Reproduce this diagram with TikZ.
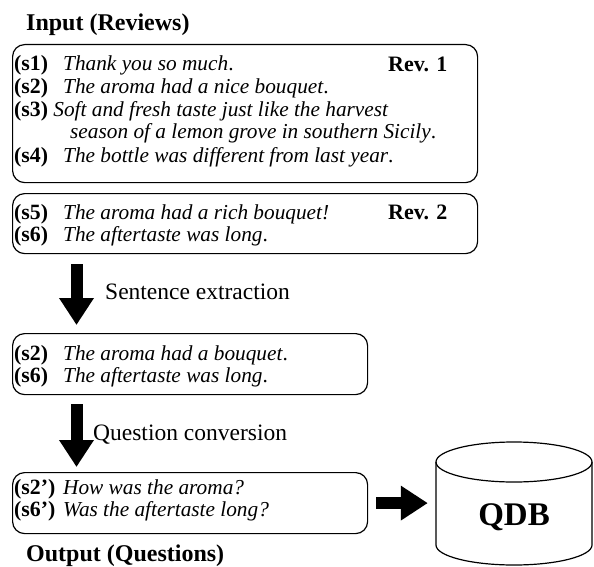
\documentclass[tikz,border=0pt]{standalone}
\usepackage{fontspec}
\setmainfont{Liberation Serif}
\usetikzlibrary{arrows.meta,calc}
\newcommand{\lab}[1]{\makebox[49pt][l]{\fontsize{21.8}{23}\selectfont\bfseries #1}}
\newcommand{\labs}[1]{{\fontsize{21.8}{23}\selectfont\bfseries #1}}
\begin{document}
\begin{tikzpicture}[x=1pt,y=-1pt,
  rbox/.style={draw, line width=1.2pt, rounded corners=12pt, anchor=north west, inner sep=0pt},
  txt/.style={anchor=base west, inner sep=0pt, font=\fontsize{21.3}{23}\selectfont},
  plain/.style={anchor=base west, inner sep=0pt, font=\fontsize{23.5}{26}\selectfont},
  title/.style={anchor=base west, inner sep=0pt, font=\fontsize{24}{26}\selectfont\bfseries},
  bigarrow/.style={line width=12pt, -{Triangle[length=27pt,width=33pt]}}
]
\useasboundingbox (0,0) rectangle (594,567);
% title
\node[title] (tin) at (26,31) {Input (Reviews)};
% boxes
\node[rbox, minimum width=465pt, minimum height=138pt] (box1) at (12,44) {};
\node[rbox, minimum width=465pt, minimum height=60pt] (box2) at (12,193) {};
\node[rbox, minimum width=355pt, minimum height=61pt] (box3) at (12,333) {};
\node[rbox, minimum width=355pt, minimum height=61pt] (box4) at (12,472) {};
% review 1
\node[txt] (s1) at (14,71) {\lab{(s1)}\textit{Thank you so much}.};
\node[txt] (s2) at (14,94) {\lab{(s2)}\textit{The aroma had a nice bouquet}.};
\node[txt] (s3) at (14,117) {\labs{(s3)} \textit{Soft and fresh taste just like the harvest}};
\node[txt] (s3b) at (70,139) {\textit{season of a lemon grove in southern Sicily}.};
\node[txt] (s4) at (14,162) {\lab{(s4)}\textit{The bottle was different from last year}.};
\node[txt, font=\fontsize{22}{23}\selectfont\bfseries] (rev1) at (388,72) {Rev. 1};
% review 2
\node[txt] (s5) at (14,219) {\lab{(s5)}\textit{The aroma had a rich bouquet!}};
\node[txt] (s6) at (14,241) {\lab{(s6)}\textit{The aftertaste was long}.};
\node[txt, font=\fontsize{22}{23}\selectfont\bfseries] (rev2) at (388,219) {Rev. 2};
% arrow 1
\draw[bigarrow] ($(box2.south west)+(64.5,10)$) -- ($(box3.north west)+(64.5,-8)$);
\node[plain] (ext) at (105,299) {Sentence extraction};
% extracted
\node[txt] (e2) at (14,360) {\lab{(s2)}\textit{The aroma had a bouquet}.};
\node[txt] (e6) at (14,382) {\lab{(s6)}\textit{The aftertaste was long}.};
% arrow 2
\draw[bigarrow] ($(box3.south west)+(64.5,9)$) -- ($(box4.north west)+(64.5,-5)$);
\node[plain] (conv) at (93,440) {Question conversion};
% questions
\node[txt] (q2) at (14,494) {\lab{(s2')}\textit{How was the aroma?}};
\node[txt] (q6) at (14,516) {\lab{(s6')}\textit{Was the aftertaste long?}};
\node[title] (tout) at (26,561) {Output (Questions)};
% database
\node[inner sep=0pt, minimum width=156pt, minimum height=123pt] (db) at (514,503.5) {};
\draw[line width=1.2pt] (436,462) -- (436,545)
  .. controls (436,556.05) and (470.9,565) .. (514,565)
  .. controls (557.1,565) and (592,556.05) .. (592,545) -- (592,462);
\draw[line width=1.2pt] (514,462) ellipse [x radius=78, y radius=20];
\node[inner sep=0pt, font=\fontsize{33}{36}\selectfont\bfseries] (qdb) at (514,517) {QDB};
% arrow 3
\draw[bigarrow] ([xshift=8pt]box4.east) -- ([xshift=-8pt]db.west |- box4.east);
\end{tikzpicture}
\end{document}
